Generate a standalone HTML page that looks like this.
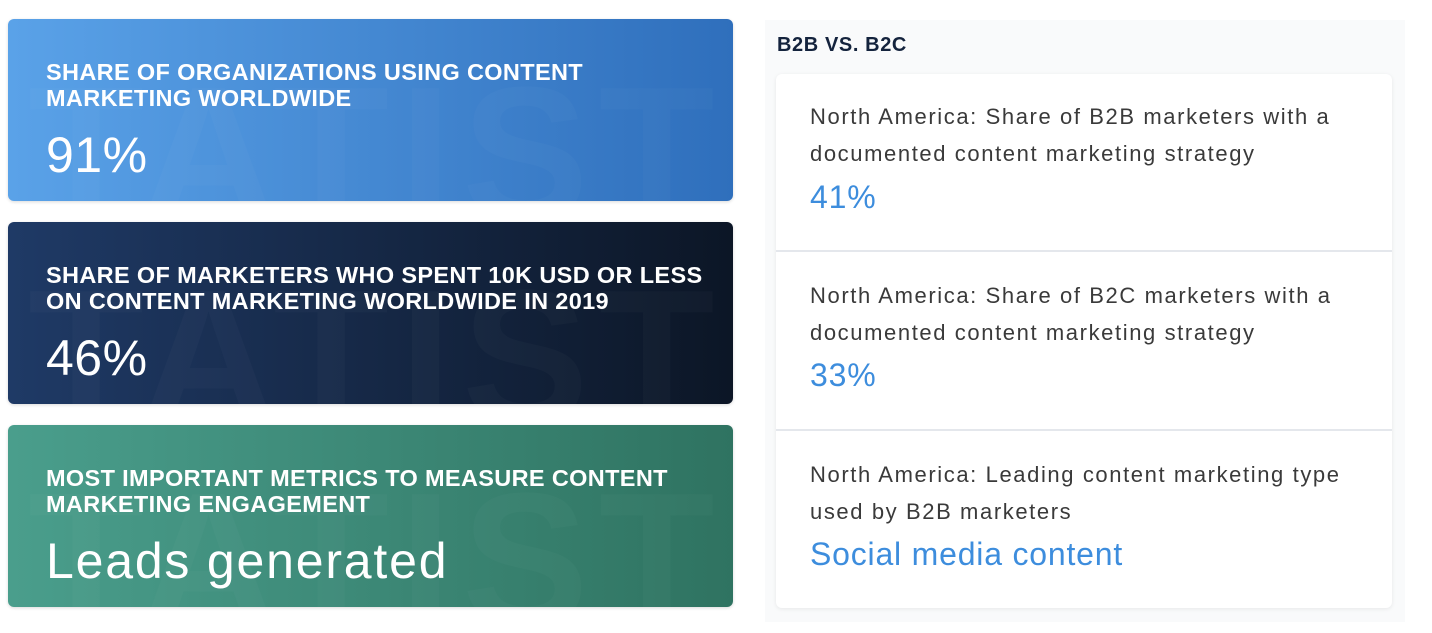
<!DOCTYPE html>
<html><head><style>
*{margin:0;padding:0;box-sizing:border-box}
html,body{width:1432px;height:633px;overflow:hidden}
body{background:#fff;font-family:"Liberation Sans",sans-serif;position:relative}
.card{position:absolute;left:8px;width:725px;height:182px;border-radius:6px;color:#fff;overflow:hidden;box-shadow:0 1px 3px rgba(0,0,0,.15)}
.c1{top:19px;background:linear-gradient(90deg,#5aa2e8,#2f6fbc)}
.c2{top:222px;background:linear-gradient(90deg,#1f3a66,#0c1626)}
.c3{top:425px;background:linear-gradient(90deg,#4a9e8c,#2f7361)}
.t{position:absolute;left:38px;top:40px;font-weight:bold;font-size:23.5px;line-height:26px;letter-spacing:0.35px;text-transform:uppercase;white-space:nowrap}
.v{position:absolute;left:38px;top:108px;font-size:50px;line-height:56px;letter-spacing:0.5px}
.c3 .v{letter-spacing:1.8px}
.wm{position:absolute;left:20px;top:40px;font-size:190px;line-height:190px;font-weight:bold;color:rgba(255,255,255,.025);letter-spacing:10px;white-space:nowrap}
.panel{position:absolute;left:765px;top:20px;width:640px;height:602px;background:#f9fafb}
.h{position:absolute;left:777px;top:34px;font-weight:bold;font-size:20px;color:#14233d;letter-spacing:0.6px}
.box{position:absolute;left:776px;top:74px;width:616px;height:534px;background:#fff;border-radius:6px;box-shadow:0 1px 4px rgba(0,0,0,.08)}
.item{position:absolute;left:0;width:616px;border-bottom:2px solid #e4e7ec}
.it{position:absolute;left:34px;font-size:22px;line-height:37px;color:#3a3a3a;letter-spacing:1.6px;white-space:nowrap}
.iv{position:absolute;left:34px;font-size:32px;color:#3d8ddd;letter-spacing:0.8px;white-space:nowrap}
</style></head><body>
<div class="card c1"><div class="wm">TATISTIC</div><div class="t">Share of organizations using content<br>marketing worldwide</div><div class="v">91%</div></div>
<div class="card c2"><div class="wm">TATISTIC</div><div class="t">Share of marketers who spent 10K USD or less<br>on content marketing worldwide in 2019</div><div class="v">46%</div></div>
<div class="card c3"><div class="wm">TATISTIC</div><div class="t">Most important metrics to measure content<br>marketing engagement</div><div class="v">Leads generated</div></div>
<div class="panel"></div>
<div class="h">B2B VS. B2C</div>
<div class="box">
<div class="item" style="top:0;height:178px"><div class="it" style="top:24px">North America: Share of B2B marketers with a<br>documented content marketing strategy</div><div class="iv" style="top:105px">41%</div></div>
<div class="item" style="top:178px;height:179px"><div class="it" style="top:25px">North America: Share of B2C marketers with a<br>documented content marketing strategy</div><div class="iv" style="top:105px">33%</div></div>
<div class="item" style="top:357px;height:177px;border:none"><div class="it" style="top:25px">North America: Leading content marketing type<br>used by B2B marketers</div><div class="iv" style="top:105px">Social media content</div></div>
</div>
</body></html>
